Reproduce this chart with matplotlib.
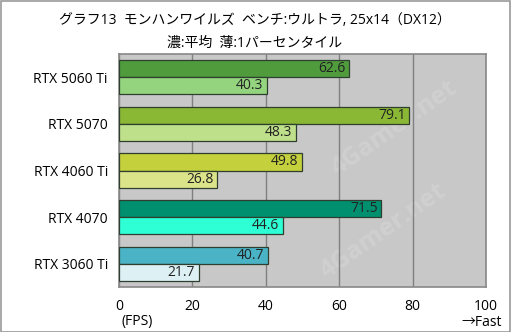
import matplotlib
matplotlib.use("Agg")
import matplotlib.pyplot as plt
import numpy as np

plt.rcParams['font.family'] = ['Open Sans', 'Noto Sans CJK JP', 'DejaVu Sans']

categories = ["RTX 5060 Ti", "RTX 5070", "RTX 4060 Ti", "RTX 4070", "RTX 3060 Ti"]
avg_fps = [62.6, 79.1, 49.8, 71.5, 40.7]
low1_fps = [40.3, 48.3, 26.8, 44.6, 21.7]
dark_colors = ["#509c3c", "#8ab834", "#c4d03c", "#009070", "#4ab4c6"]
light_colors = ["#94d47e", "#bee08a", "#dce48a", "#2effd4", "#ddf0f4"]
xticks = [0, 20, 40, 60, 80, 100]

fig = plt.figure(figsize=(5.11, 3.32), dpi=100)
W, H = 511, 332
ax = fig.add_axes([119 / W, 1 - 287 / H, (486 - 119) / W, (287 - 54) / H])
ax.set_facecolor("#c8c8c8")

n = len(categories)
bh = 0.365
y = np.arange(n)
for i in range(n):
    ax.barh(y[i] - bh / 2, avg_fps[i], height=bh, color=dark_colors[i],
            edgecolor="#2f3f2f", linewidth=0.9, zorder=3)
    ax.barh(y[i] + bh / 2, low1_fps[i], height=bh, color=light_colors[i],
            edgecolor="#2f3f2f", linewidth=0.9, zorder=3)
    ax.text(avg_fps[i] - 1.0, y[i] - bh / 2, f"{avg_fps[i]:.1f}", ha="right",
            va="center", fontsize=10, color="#222222", zorder=4)
    ax.text(low1_fps[i] - 1.0, y[i] + bh / 2, f"{low1_fps[i]:.1f}", ha="right",
            va="center", fontsize=10, color="#222222", zorder=4)

# faint watermark, kept fully inside the plot area
for (wx, wy) in [(75, 1.1), (72, 3.3)]:
    ax.text(wx, wy, "4Gamer.net", rotation=35, fontsize=18, color="#d0d0d0",
            ha="center", va="center", zorder=1, fontweight="bold")

ax.set_xlim(0, 100)
ax.set_ylim(n - 0.5, -0.5)
ax.set_xticks(xticks)
ax.set_xticklabels([str(t) for t in xticks], fontsize=10)
ax.set_yticks(y)
ax.set_yticklabels(categories, fontsize=10)
ax.tick_params(length=0, pad=8)
ax.tick_params(axis='x', pad=9)
ax.grid(axis="x", color="#808080", linewidth=1, zorder=2)
for s in ax.spines.values():
    s.set_color("#888888")
    s.set_linewidth(1.2)

fig.text(255 / W, 1 - 20 / H, "グラフ13  モンハンワイルズ  ベンチ:ウルトラ, 25x14（DX12）",
         ha="center", va="center", fontsize=10)
fig.text(255 / W, 1 - 43 / H, "濃:平均  薄:1パーセンタイル", ha="center",
         va="center", fontsize=10)
fig.text(137 / W, 1 - 322 / H, "(FPS)", ha="center", va="center", fontsize=10)
fig.text(502 / W, 1 - 322 / H, "→Fast", ha="right", va="center", fontsize=10)

border = plt.Rectangle((0.5 / W, 0.5 / H), 1 - 1.5 / W, 1 - 1.5 / H,
                       transform=fig.transFigure, fill=False, edgecolor="#999999",
                       linewidth=1.2)
fig.patches.append(border)

fig.savefig("out.png", dpi=100)
